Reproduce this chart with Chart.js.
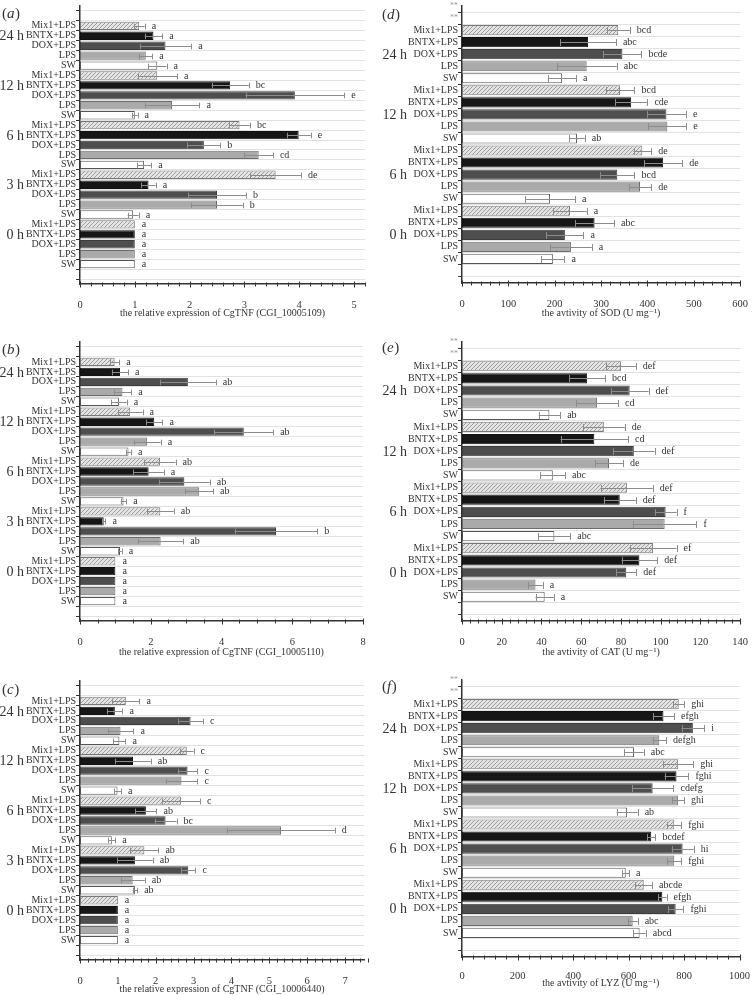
<!DOCTYPE html>
<html>
<head>
<meta charset="utf-8">
<script src="https://cdn.jsdelivr.net/npm/chart.js@4.4.1/dist/chart.umd.min.js"></script>
<style>
  body { margin: 0; background: #fff; width: 755px; height: 995px; position: relative; overflow: hidden; }
  canvas { position: absolute; }
</style>
</head>
<body>
<canvas id="pa" width="375" height="330" style="left:0;top:0"></canvas>
<canvas id="pb" width="375" height="330" style="left:0;top:330px"></canvas>
<canvas id="pc" width="375" height="335" style="left:0;top:660px"></canvas>
<canvas id="pd" width="380" height="330" style="left:375px;top:0"></canvas>
<canvas id="pe" width="380" height="330" style="left:375px;top:330px"></canvas>
<canvas id="pf" width="380" height="335" style="left:375px;top:660px"></canvas>
<script>
// groups and treatments (top to bottom)
const treatments = ['Mix1+LPS', 'BNTX+LPS', 'DOX+LPS', 'LPS', 'SW'];
const timesTNF = ['24 h', '12 h', '6 h', '3 h', '0 h'];
const timesEnz = ['24 h', '12 h', '6 h', '0 h'];

// (a) CgTNF CGI_10005109
const tnf5109 = [1.08, 1.34, 1.56, 1.20, 1.41,  1.41, 2.74, 3.92, 1.68, 1.00,  2.91, 3.99, 2.26, 3.26, 1.17,  3.57, 1.25, 2.50, 2.50, 0.97,  1, 1, 1, 1, 1];
const tnf5109Err = [0.10, 0.16, 0.47, 0.12, 0.17,  0.36, 0.34, 0.90, 0.50, 0.05,  0.19, 0.22, 0.30, 0.26, 0.13,  0.46, 0.13, 0.53, 0.47, 0.10,  0, 0, 0, 0, 0];
const tnf5109Sig = ['a', 'a', 'a', 'a', 'a',  'a', 'bc', 'e', 'a', 'a',  'bc', 'e', 'b', 'cd', 'a',  'de', 'a', 'b', 'b', 'a',  'a', 'a', 'a', 'a', 'a'];

// (b) CgTNF CGI_10005110
const tnf5110 = [0.98, 1.13, 3.05, 1.20, 1.10,  1.42, 2.10, 4.63, 1.90, 1.37,  2.26, 1.94, 2.95, 3.37, 1.23,  2.27, 0.67, 5.54, 2.28, 1.13,  1, 1, 1, 1, 1];
const tnf5110Err = [0.13, 0.23, 0.79, 0.25, 0.22,  0.35, 0.23, 0.83, 0.38, 0.07,  0.44, 0.43, 0.72, 0.39, 0.08,  0.38, 0.05, 1.17, 0.64, 0.05,  0, 0, 0, 0, 0];
const tnf5110Sig = ['a', 'a', 'ab', 'a', 'a',  'a', 'a', 'ab', 'a', 'a',  'ab', 'a', 'ab', 'ab', 'a',  'ab', 'a', 'b', 'ab', 'a',  'a', 'a', 'a', 'a', 'a'];

// (c) CgTNF CGI_10006440
const tnf6440 = [1.21, 0.92, 2.92, 1.07, 1.04,  2.82, 1.40, 2.84, 2.68, 0.99,  2.67, 1.74, 2.26, 5.31, 0.84,  1.70, 1.45, 2.86, 1.39, 1.45,  1, 1, 1, 1, 1];
const tnf6440Err = [0.36, 0.20, 0.33, 0.34, 0.16,  0.18, 0.47, 0.26, 0.42, 0.09,  0.50, 0.28, 0.29, 1.42, 0.09,  0.37, 0.47, 0.19, 0.32, 0.06,  0, 0, 0, 0, 0];
const tnf6440Sig = ['a', 'a', 'c', 'a', 'a',  'c', 'ab', 'c', 'c', 'a',  'c', 'ab', 'bc', 'd', 'a',  'ab', 'ab', 'c', 'ab', 'ab',  'a', 'a', 'a', 'a', 'a'];

// (d) SOD
const sod = [337, 272, 346, 269, 216,  341, 365, 441, 443, 248,  389, 434, 335, 384, 190,  233, 286, 222, 235, 196];
const sodErr = [25, 60, 41, 65, 30,  31, 35, 42, 41, 17,  19, 41, 37, 24, 54,  36, 42, 40, 45, 25];
const sodSig = ['bcd', 'abc', 'bcde', 'abc', 'a',  'bcd', 'cde', 'e', 'e', 'ab',  'de', 'de', 'bcd', 'de', 'a',  'a', 'abc', 'a', 'a', 'a'];

// (e) CAT
const cat = [80, 63, 84.4, 68, 44,  71.4, 66.6, 86.5, 74, 45.7,  83, 79.4, 102.5, 102, 46.5,  96.2, 89.3, 82.7, 37, 41.6];
const catErr = [7.5, 9, 9.5, 10.5, 5.4,  10.5, 17, 10.4, 7, 6.2,  13, 8, 5.5, 16, 8,  11.8, 9, 5, 3.7, 4.6];
const catSig = ['def', 'bcd', 'def', 'cd', 'ab',  'de', 'cd', 'def', 'de', 'abc',  'def', 'def', 'f', 'f', 'abc',  'ef', 'def', 'def', 'a', 'a'];

// (f) LYZ
const lyz = [781, 726, 832, 711, 620,  779, 773, 687, 779, 595,  765, 682, 795, 765, 590,  655, 722, 770, 615, 640];
const lyzErr = [20, 38, 41, 24, 35,  54, 43, 75, 21, 38,  25, 15, 40, 25, 12,  30, 15, 28, 18, 22];
const lyzSig = ['ghi', 'efgh', 'i', 'defgh', 'abc',  'ghi', 'fghi', 'cdefg', 'ghi', 'ab',  'fghi', 'bcdef', 'hi', 'fghi', 'a',  'abcde', 'efgh', 'fghi', 'abc', 'abcd'];

const SERIF = '"Liberation Serif", "DejaVu Serif", serif';
const INK = '#333';

function hatch() {
  const c = document.createElement('canvas');
  c.width = 4; c.height = 4;
  const g = c.getContext('2d');
  g.fillStyle = '#e4e4e4';
  g.fillRect(0, 0, 4, 4);
  g.strokeStyle = '#9c9c9c';
  g.lineWidth = 1;
  g.beginPath();
  g.moveTo(-1, 5); g.lineTo(5, -1);
  g.stroke();
  return g.createPattern(c, 'repeat');
}
const fillFor = [hatch(), '#161616', '#4e4e4e', '#aaaaaa', '#ffffff'];
const edgeFor = ['#777', '#111', '#3c3c3c', '#6c6c6c', '#555'];

function overlay(cfg) {
  return {
    id: 'overlay',
    afterDatasetsDraw(chart) {
      const ctx = chart.ctx, xs = chart.scales.x;
      const meta = chart.getDatasetMeta(0);
      ctx.save();
      ctx.strokeStyle = '#8c8c8c';
      ctx.lineWidth = 1;
      ctx.font = '10px ' + SERIF;
      ctx.fillStyle = INK;
      ctx.textBaseline = 'middle';
      ctx.textAlign = 'left';
      cfg.means.forEach((m, k) => {
        const bar = meta.data[k + 2];
        const y = Math.round(bar.y) + 0.5, cap = bar.height * 0.34;
        const e = cfg.errs[k];
        const x1 = xs.getPixelForValue(m - e), x2 = xs.getPixelForValue(m + e);
        if (e > 0) {
          ctx.beginPath();
          ctx.moveTo(x1, y); ctx.lineTo(x2, y);
          ctx.moveTo(Math.round(x1) + 0.5, y - cap); ctx.lineTo(Math.round(x1) + 0.5, y + cap);
          ctx.moveTo(Math.round(x2) + 0.5, y - cap); ctx.lineTo(Math.round(x2) + 0.5, y + cap);
          ctx.stroke();
        }
        ctx.fillText(cfg.sig[k], x2 + 7, y);
      });
      // x axis tick marks (major and minor)
      ctx.strokeStyle = '#333';
      const yb = chart.chartArea.bottom + 0.5;
      ctx.beginPath();
      const n = Math.round(cfg.max / cfg.minor);
      for (let i = 0; i <= n; i++) {
        const v = i * cfg.minor;
        const major = Math.abs(v / cfg.step - Math.round(v / cfg.step)) < 1e-6;
        const px = Math.round(xs.getPixelForValue(v)) + 0.5;
        ctx.moveTo(px, yb - (major ? 3 : 2));
        ctx.lineTo(px, yb + (major ? 3 : 2));
      }
      ctx.stroke();
      ctx.restore();
    },
    afterDraw(chart) {
      const ctx = chart.ctx, ys = chart.scales.y;
      ctx.save();
      ctx.fillStyle = INK;
      ctx.textBaseline = 'middle';
      ctx.textAlign = 'right';
      ctx.font = '14px ' + SERIF;
      cfg.times.forEach((t, g) => {
        const y = ys.getPixelForValue(2 + g * 5 + cfg.timeRow);
        ctx.fillText(t, cfg.timeX, y + 1);
      });
      // panel letter
      ctx.textAlign = 'left';
      ctx.font = '15px ' + SERIF;
      let x = cfg.tagX;
      ctx.fillText('(', x, cfg.tagY);
      x += ctx.measureText('(').width;
      ctx.font = 'italic 15px ' + SERIF;
      ctx.fillText(cfg.tag, x, cfg.tagY);
      x += ctx.measureText(cfg.tag).width + 0.5;
      ctx.font = '15px ' + SERIF;
      ctx.fillText(')', x, cfg.tagY);
      ctx.restore();
    }
  };
}

function panel(cfg) {
  const canvas = document.getElementById(cfg.id);
  const W = canvas.width, H = canvas.height;
  const labels = [cfg.topLabel, cfg.topLabel];
  const values = [null, null];
  const fills = ['rgba(0,0,0,0)', 'rgba(0,0,0,0)'];
  const edges = ['rgba(0,0,0,0)', 'rgba(0,0,0,0)'];
  cfg.means.forEach((v, i) => {
    labels.push(treatments[i % 5]);
    values.push(v);
    fills.push(fillFor[i % 5]);
    edges.push(edgeFor[i % 5]);
  });
  labels.push('', '');
  values.push(null, null);
  fills.push('rgba(0,0,0,0)', 'rgba(0,0,0,0)');
  edges.push('rgba(0,0,0,0)', 'rgba(0,0,0,0)');

  new Chart(canvas, {
    type: 'bar',
    data: {
      labels: labels,
      datasets: [{
        data: values,
        backgroundColor: fills,
        borderColor: edges,
        borderWidth: 1,
        borderSkipped: false,
        barPercentage: 0.84,
        categoryPercentage: 1
      }]
    },
    options: {
      indexAxis: 'y',
      responsive: false,
      animation: false,
      devicePixelRatio: 1,
      layout: { padding: { top: cfg.area.top, right: W - cfg.area.right, left: 0, bottom: 0 } },
      plugins: { legend: { display: false }, tooltip: { enabled: false } },
      scales: {
        x: {
          min: 0,
          max: cfg.max,
          ticks: {
            stepSize: cfg.step, includeBounds: false, padding: cfg.tickPad, color: INK,
            font: { family: SERIF, size: 10.5 },
            callback: v => String(v)
          },
          grid: { display: false },
          border: { display: true, color: '#333', width: 1.5 },
          title: { display: true, text: cfg.title, color: INK, font: { family: SERIF, size: 10 }, padding: { top: 0, bottom: cfg.titlePad } },
          afterFit: s => { s.height = H - cfg.area.bottom; }
        },
        y: {
          offset: false,
          ticks: {
            autoSkip: false,
            padding: 0,
            color: c => c.tick && c.tick.label === '**' ? '#999' : INK,
            font: c => c.tick && c.tick.label === '**' ? { family: SERIF, size: 8 } : { family: SERIF, size: 10 }
          },
          grid: { offset: true, color: '#e2e2e2', tickColor: '#333', tickLength: 4 },
          border: { color: '#333', width: 1.5 },
          afterFit: s => { s.width = cfg.area.left; }
        }
      }
    },
    plugins: [overlay(cfg)]
  });
}

panel({ id: 'pa', tag: 'a', tagX: 2, tagY: 14, topLabel: '', times: timesTNF, timeRow: 1, timeX: 24,
  means: tnf5109, errs: tnf5109Err, sig: tnf5109Sig, max: 5.2, step: 1, minor: 0.2,
  area: { top: 5, bottom: 284, left: 80, right: 365 }, tickPad: 7, titlePad: 11,
  title: 'the relative expression of CgTNF (CGI_10005109)' });
panel({ id: 'pb', tag: 'b', tagX: 2, tagY: 20, topLabel: '', times: timesTNF, timeRow: 1, timeX: 24,
  means: tnf5110, errs: tnf5110Err, sig: tnf5110Sig, max: 8, step: 2, minor: 0.5,
  area: { top: 12, bottom: 291, left: 80, right: 363 }, tickPad: 7, titlePad: 2,
  title: 'the relative expression of CgTNF (CGI_10005110)' });
panel({ id: 'pc', tag: 'c', tagX: 2, tagY: 30, topLabel: '', times: timesTNF, timeRow: 1, timeX: 24,
  means: tnf6440, errs: tnf6440Err, sig: tnf6440Sig, max: 7.5, step: 1, minor: 0.2,
  area: { top: 21, bottom: 300, left: 80, right: 364 }, tickPad: 7, titlePad: 0,
  title: 'the relative expression of CgTNF (CGI_10006440)' });
panel({ id: 'pd', tag: 'd', tagX: 7, tagY: 15, topLabel: '**', times: timesEnz, timeRow: 2, timeX: 32,
  means: sod, errs: sodErr, sig: sodSig, max: 600, step: 100, minor: 20,
  area: { top: 5, bottom: 283, left: 87, right: 371 }, tickPad: 7, titlePad: 11,
  title: 'the avtivity of SOD (U mg\u207B\u00B9)' });
panel({ id: 'pe', tag: 'e', tagX: 7, tagY: 18, topLabel: '**', times: timesEnz, timeRow: 2, timeX: 32,
  means: cat, errs: catErr, sig: catSig, max: 140, step: 20, minor: 4,
  area: { top: 12, bottom: 291, left: 87, right: 371 }, tickPad: 7, titlePad: 2,
  title: 'the avtivity of CAT (U mg\u207B\u00B9)' });
panel({ id: 'pf', tag: 'f', tagX: 7, tagY: 27, topLabel: '**', times: timesEnz, timeRow: 2, timeX: 32,
  means: lyz, errs: lyzErr, sig: lyzSig, max: 1000, step: 200, minor: 40,
  area: { top: 20, bottom: 297, left: 87, right: 371 }, tickPad: 5, titlePad: 6,
  title: 'the avtivity of LYZ (U mg\u207B\u00B9)' });
</script>
</body>
</html>
